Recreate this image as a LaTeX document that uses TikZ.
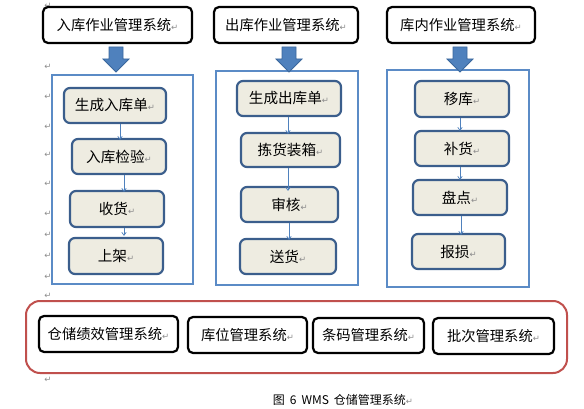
\documentclass[tikz,border=0pt]{standalone}
\usepackage{fontspec}
\setmainfont{Noto Sans CJK SC}
\newfontfamily\dvfont{DejaVu Sans}
\usetikzlibrary{arrows.meta}
\definecolor{panelblue}{HTML}{5B8BC6}
\definecolor{boxedge}{HTML}{3B5E8C}
\definecolor{boxfill}{HTML}{EEECE1}
\definecolor{arrowfill}{HTML}{4F81BD}
\definecolor{arrowedge}{HTML}{3A679C}
\definecolor{framered}{HTML}{C0504D}
\definecolor{markgray}{HTML}{8C8C8C}
\newcommand{\rmark}{{\dvfont\fontsize{8.5}{8.5}\selectfont\textcolor{markgray}{↵}}}
\tikzset{
  sysbox/.style={draw=black, line width=2.2pt, rounded corners=5pt, fill=white, inner sep=0pt, font=\fontsize{14.3}{16}\selectfont},
  stepbox/.style={draw=boxedge, fill=boxfill, line width=2.2pt, rounded corners=6pt, inner sep=0pt, font=\fontsize{14.6}{16}\selectfont},
  panel/.style={draw=panelblue, line width=1.8pt, inner sep=0pt},
  redframe/.style={draw=framered, line width=2pt, rounded corners=14pt, inner sep=0pt},
  flow/.style={draw=arrowfill, line width=0.7pt, -{Straight Barb[length=3pt,width=4.5pt]}},
  bigarrow/.style={fill=arrowfill, draw=arrowedge, line width=0.8pt, line join=miter},
  retmark/.style={inner sep=0pt, font=\dvfont\fontsize{8.5}{8.5}\selectfont, text=markgray},
  caption/.style={inner sep=0pt, font=\fontsize{12}{13}\selectfont}
}
\begin{document}
\begin{tikzpicture}[x=1pt,y=-1pt]
\useasboundingbox (0,0) rectangle (584,409);

% left margin paragraph marks
\foreach \yy [count=\i] in {6,67,97,127,155,184,214,235,256,277,296,380}
  \node[retmark] (m\i) at (48,\yy) {↵};

% panels
\node[panel, minimum width=141pt, minimum height=209pt] (P1) at (122.5,179.5) {};
\node[panel, minimum width=142pt, minimum height=214pt] (P2) at (287,178) {};
\node[panel, minimum width=142pt, minimum height=217pt] (P3) at (458,178.5) {};

% top system boxes
\node[sysbox, minimum width=149pt, minimum height=36pt] (T1) at (117.5,25) {入库作业管理系统\rmark};
\node[sysbox, minimum width=144pt, minimum height=36pt] (T2) at (286,25) {出库作业管理系统\rmark};
\node[sysbox, minimum width=148pt, minimum height=36pt] (T3) at (461,25) {库内作业管理系统\rmark};

% big arrows
\coordinate (A1) at (116,47);
\coordinate (A2) at (289,47);
\coordinate (A3) at (460,47);
\foreach \a in {A1,A2,A3}
  \draw[bigarrow] (\a) ++(-7,0) -- ++(14,0) -- ++(0,12) -- ++(6,0) -- ++(-13,13) -- ++(-13,-13) -- ++(6,0) -- cycle;

% column 1
\node[stepbox, minimum width=102pt, minimum height=35pt] (B11) at (115,105.5) {生成入库单\rmark};
\node[stepbox, minimum width=94pt, minimum height=35pt] (B12) at (119,156.5) {入库检验\rmark};
\node[stepbox, minimum width=94pt, minimum height=36pt] (B13) at (117,209) {收货\rmark};
\node[stepbox, minimum width=94pt, minimum height=36pt] (B14) at (116,256) {上架\rmark};
% column 2
\node[stepbox, minimum width=104pt, minimum height=35pt] (B21) at (289,98.5) {生成出库单\rmark};
\node[stepbox, minimum width=99pt, minimum height=34pt] (B22) at (290.5,150) {拣货装箱\rmark};
\node[stepbox, minimum width=97pt, minimum height=35pt] (B23) at (289.5,204.5) {审核\rmark};
\node[stepbox, minimum width=96pt, minimum height=35pt] (B24) at (288,256.5) {送货\rmark};
% column 3
\node[stepbox, minimum width=94pt, minimum height=36pt] (B31) at (462,99) {移库\rmark};
\node[stepbox, minimum width=94pt, minimum height=35pt] (B32) at (462,148.5) {补货\rmark};
\node[stepbox, minimum width=94pt, minimum height=35pt] (B33) at (460,197.5) {盘点\rmark};
\node[stepbox, minimum width=93pt, minimum height=35pt] (B34) at (458.5,251.5) {报损\rmark};

% small flow arrows
\draw[flow] (B11.south -| 120,0) -- ([yshift=-2pt]B12.north -| 120,0);
\draw[flow] (B12.south -| 124,0) -- ([yshift=-2pt]B13.north -| 124,0);
\draw[flow] (B13.south -| 124,0) -- ([yshift=1pt]B14.north -| 124,0);
\draw[flow] (B21.south -| 288,0) -- ([yshift=-2pt]B22.north -| 288,0);
\draw[flow] (B22.south -| 288,0) -- ([yshift=-5pt]B23.north -| 288,0);
\draw[flow] (B23.south -| 289,0) -- ([yshift=-2pt]B24.north -| 289,0);
\draw[flow] (B31.south -| 460,0) -- ([yshift=-1pt]B32.north -| 460,0);
\draw[flow] (B32.south -| 460,0) -- ([yshift=-1pt]B33.north -| 460,0);
\draw[flow] (B33.south -| 461,0) -- ([yshift=-2pt]B34.north -| 461,0);

% bottom frame
\node[redframe, minimum width=541pt, minimum height=72pt] (R) at (296.5,337) {};
\node[sysbox, minimum width=139pt, minimum height=36pt] (C1) at (108.5,334) {仓储绩效管理系统\rmark};
\node[sysbox, minimum width=119pt, minimum height=36pt] (C2) at (247.5,335) {库位管理系统\rmark};
\node[sysbox, minimum width=111pt, minimum height=35pt] (C3) at (368.5,335.5) {条码管理系统\rmark};
\node[sysbox, minimum width=121pt, minimum height=36pt] (C4) at (493.5,336) {批次管理系统\rmark};

% caption
\node[caption] (cap) at (343,400) {图\hspace{5pt}6\hspace{5pt}WMS\hspace{5pt}仓储管理系统\rmark};
\end{tikzpicture}
\end{document}
